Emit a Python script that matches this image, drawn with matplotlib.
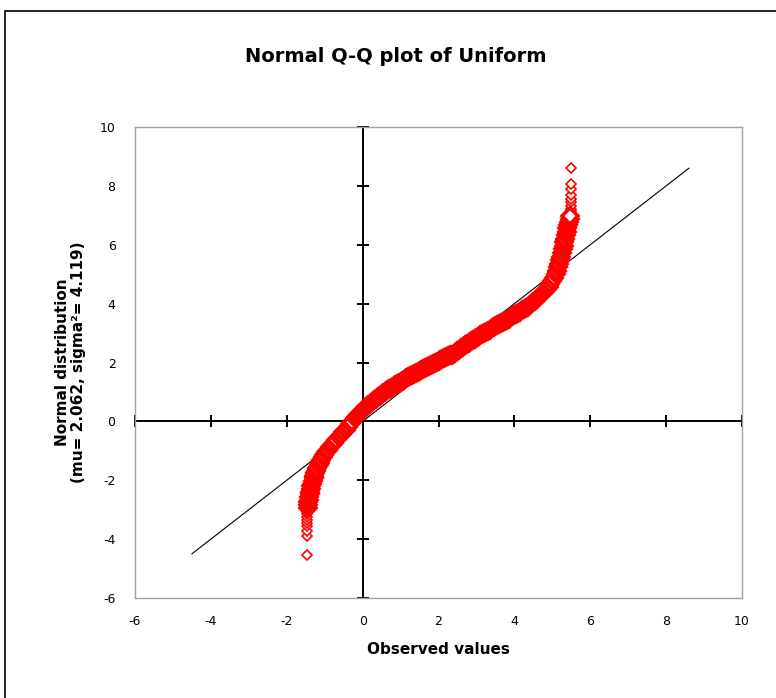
import matplotlib
matplotlib.use("Agg")
import matplotlib.pyplot as plt
from matplotlib.patches import Rectangle
import numpy as np

plt.rcParams["axes.unicode_minus"] = False

title = "Normal Q-Q plot of Uniform"
x_label = "Observed values"
y_label = "Normal distribution\n(mu= 2.062, sigma²= 4.119)"

obs_low_tail = [-1.47, -1.47, -1.47, -1.47, -1.47, -1.47, -1.47, -1.47, -1.46, -1.46]
q_low_tail = [-4.53, -3.91, -3.71, -3.57, -3.45, -3.34, -3.24, -3.15, -3.07, -3.00]

obs_low = [-1.45, -1.44, -1.43, -1.42, -1.41, -1.40, -1.38, -1.37, -1.35, -1.33,
           -1.31, -1.29, -1.27, -1.25, -1.22, -1.19, -1.16, -1.13, -1.09, -1.05,
           -1.01, -0.96, -0.91, -0.86, -0.81, -0.75, -0.69, -0.63, -0.57, -0.51,
           -0.45, -0.39, -0.33, -0.27]
q_low = [-2.93, -2.84, -2.75, -2.66, -2.57, -2.48, -2.39, -2.30, -2.21, -2.12,
         -2.03, -1.94, -1.85, -1.76, -1.67, -1.58, -1.49, -1.40, -1.31, -1.22,
         -1.13, -1.04, -0.96, -0.88, -0.80, -0.72, -0.62, -0.53, -0.45, -0.37,
         -0.28, -0.19, -0.10, -0.02]

obs_mid = [-0.20, -0.15, -0.10, -0.05, 0.00, 0.05, 0.10, 0.15, 0.20, 0.25,
           0.30, 0.35, 0.40, 0.45, 0.50, 0.55, 0.60, 0.65, 0.70, 0.75,
           0.80, 0.85, 0.90, 0.95, 1.00, 1.05, 1.10, 1.15, 1.20, 1.25,
           1.30, 1.35, 1.40, 1.45, 1.50, 1.55, 1.60, 1.65, 1.70, 1.75,
           1.80, 1.85, 1.90, 1.95, 2.00, 2.05, 2.10, 2.15, 2.20, 2.25,
           2.30, 2.35, 2.40, 2.45, 2.50, 2.55, 2.60, 2.65, 2.70, 2.75,
           2.80, 2.85, 2.90, 2.95, 3.00, 3.05, 3.10, 3.15, 3.20, 3.25,
           3.30, 3.35, 3.40, 3.45, 3.50, 3.55, 3.60, 3.65, 3.70, 3.75,
           3.80, 3.85, 3.90, 3.95, 4.00, 4.05, 4.10, 4.15, 4.20, 4.25,
           4.30, 4.35, 4.40, 4.45, 4.50, 4.55, 4.60, 4.65, 4.70, 4.75,
           4.80, 4.85, 4.90, 4.95, 5.00]
q_mid = [0.13, 0.19, 0.25, 0.32, 0.38, 0.44, 0.49, 0.55, 0.60, 0.66,
         0.71, 0.77, 0.82, 0.87, 0.92, 0.97, 1.01, 1.05, 1.09, 1.14,
         1.18, 1.22, 1.26, 1.31, 1.35, 1.38, 1.42, 1.46, 1.50, 1.53,
         1.57, 1.61, 1.65, 1.69, 1.72, 1.76, 1.79, 1.82, 1.85, 1.89,
         1.92, 1.95, 1.98, 2.01, 2.04, 2.08, 2.11, 2.14, 2.17, 2.21,
         2.24, 2.27, 2.30, 2.34, 2.38, 2.43, 2.48, 2.53, 2.58, 2.63,
         2.67, 2.72, 2.76, 2.80, 2.84, 2.88, 2.92, 2.96, 3.00, 3.04,
         3.08, 3.12, 3.16, 3.20, 3.23, 3.27, 3.30, 3.34, 3.37, 3.41,
         3.45, 3.49, 3.53, 3.57, 3.60, 3.64, 3.68, 3.72, 3.77, 3.81,
         3.86, 3.90, 3.95, 4.00, 4.05, 4.10, 4.16, 4.22, 4.28, 4.35,
         4.42, 4.50, 4.58, 4.67, 4.76]

obs_high = [5.05, 5.09, 5.12, 5.15, 5.18, 5.21, 5.23, 5.26, 5.28, 5.30,
            5.32, 5.34, 5.36, 5.38, 5.40, 5.42, 5.44, 5.46, 5.47]
q_high = [4.88, 5.00, 5.12, 5.24, 5.36, 5.48, 5.60, 5.72, 5.84, 5.96,
          6.08, 6.20, 6.32, 6.44, 6.56, 6.67, 6.78, 6.88, 6.97]

obs_high_tail = [5.48, 5.48, 5.49, 5.49, 5.49, 5.49, 5.49, 5.49, 5.49, 5.49]
q_high_tail = [7.06, 7.14, 7.23, 7.33, 7.44, 7.56, 7.70, 7.90, 8.08, 8.60]

ref_x = [-4.5, 8.6]
ref_y = [-4.5, 8.6]

ticks = [-6, -4, -2, 0, 2, 4, 6, 8, 10]

band_obs = np.array(obs_low + obs_mid + obs_high)
band_q = np.array(q_low + q_mid + q_high)
tail_obs = np.array(obs_low_tail + obs_high_tail)
tail_q = np.array(q_low_tail + q_high_tail)

fig = plt.figure(figsize=(7.76, 6.98), dpi=100)
fig.patches.append(Rectangle((5 / 776, -0.1), 1.2, 1.1 - 11 / 698, transform=fig.transFigure,
                             fill=False, edgecolor="black", linewidth=1.2))

ax = fig.add_axes([135 / 776, 1 - 598 / 698, 607 / 776, 471 / 698])
ax.set_xlim(-6, 10)
ax.set_ylim(-6, 10)
for s in ax.spines.values():
    s.set_color("#a0a0a0")
    s.set_linewidth(1.0)

ax.set_xticks(ticks)
ax.set_yticks(ticks)
ax.tick_params(length=0, labelsize=9, pad=12)
ax.tick_params(axis="y", pad=14)

# axes through the origin with crossing tick marks
ax.axhline(0, color="black", linewidth=1.4, zorder=2)
ax.axvline(0, color="black", linewidth=1.4, zorder=2)
other = [t for t in ticks if t != 0]
ax.plot(other, [0] * len(other), linestyle="none", marker="|", ms=8, mew=1.4, color="black", zorder=2, clip_on=False)
ax.plot([0] * len(other), other, linestyle="none", marker="_", ms=8, mew=1.4, color="black", zorder=2, clip_on=False)

ax.plot(ref_x, ref_y, color="black", linewidth=0.8, zorder=3)
ax.plot(tail_obs, tail_q, linestyle="none", marker="D", ms=5, mfc="white", mec="red", mew=1.2, zorder=4)
ax.plot(band_obs, band_q, linestyle="none", marker="D", ms=8, mfc="white", mec="red", mew=2.6, zorder=5)

ax.set_xlabel(x_label, fontsize=11, fontweight="bold", labelpad=10)
ax.set_ylabel(y_label, fontsize=11, fontweight="bold", labelpad=10, linespacing=1.1)
fig.text(396 / 776, 1 - 57 / 698, title, ha="center", va="center", fontsize=14, fontweight="bold")

fig.savefig("out.png", dpi=100)
